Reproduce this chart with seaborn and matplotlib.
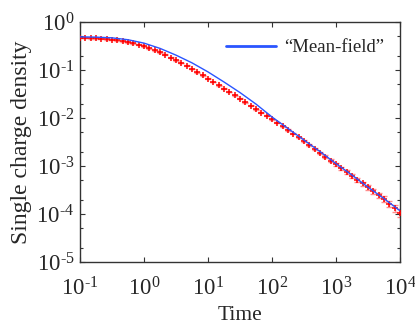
import numpy as np
import pandas as pd
import matplotlib
matplotlib.use("Agg")
import matplotlib.pyplot as plt
import matplotlib.ticker as mticker
import seaborn as sns

# Simulation results (red crosses with error bars)
sim_time = [0.1, 0.121, 0.147, 0.178, 0.215, 0.261, 0.316, 0.383, 0.464, 0.562, 0.681, 0.825,
            1, 1.21, 1.47, 1.78, 2.15, 2.61, 3.16, 3.83, 4.64, 5.62, 6.81, 8.25,
            10, 12.1, 14.7, 17.8, 21.5, 26.1, 31.6, 38.3, 46.4, 56.2, 68.1, 82.5,
            100, 121, 147, 178, 215, 261, 316, 383, 464, 562, 681, 825,
            1000, 1210, 1470, 1780, 2150, 2610, 3160, 3830, 4640, 5620, 6810, 8250,
            10000]
sim_density = [0.468, 0.465, 0.460, 0.455, 0.449, 0.440, 0.429, 0.415, 0.398, 0.380, 0.359, 0.335,
               0.309, 0.282, 0.257, 0.232, 0.207, 0.182, 0.160, 0.140, 0.122, 0.105, 0.0902, 0.0776,
               0.0661, 0.0562, 0.0479, 0.0407, 0.0347, 0.0295, 0.0251, 0.0214, 0.0180, 0.0151, 0.0130, 0.0111,
               0.00944, 0.00794, 0.00668, 0.00562, 0.00473, 0.00394, 0.00327, 0.00272, 0.00226, 0.00188, 0.00157, 0.00130,
               0.00108, 0.000902, 0.000750, 0.000624, 0.000519, 0.000432, 0.000359, 0.000299, 0.000248, 0.000204, 0.000164, 0.000133,
               0.000107]
# relative size of the error bars
sim_rel_err = [0.02] * 36 + [0.03, 0.03, 0.03, 0.03, 0.04, 0.04, 0.04, 0.05, 0.05, 0.05, 0.06, 0.06,
                             0.07, 0.07, 0.08, 0.08, 0.09, 0.10, 0.11, 0.12, 0.13, 0.14, 0.15, 0.16, 0.18]

# Mean-field curve (blue line)
mf_time = [0.1, 0.178, 0.316, 0.562, 1, 1.78, 3.16, 5.62, 10, 17.8, 31.6, 56.2,
           100, 178, 316, 562, 1000, 1780, 3160, 5620, 10000]
mf_density = [0.490, 0.484, 0.468, 0.427, 0.363, 0.282, 0.204, 0.141, 0.0912, 0.0562, 0.0339, 0.0195,
              0.0105, 0.00603, 0.00347, 0.00200, 0.00112, 0.000646, 0.000363, 0.000209, 0.000117]

sim = pd.DataFrame({"time": sim_time, "density": sim_density})
sim["err"] = sim["density"] * np.array(sim_rel_err)
mf = pd.DataFrame({"time": mf_time, "density": mf_density})

sns.set_style("ticks")
plt.rcParams["font.family"] = ["Liberation Serif", "DejaVu Serif"]
plt.rcParams["mathtext.fontset"] = "custom"
plt.rcParams["mathtext.rm"] = "Liberation Serif"
plt.rcParams["axes.unicode_minus"] = False


def pow10(v, pos):
    k = int(round(np.log10(v)))
    if k < 0:
        return r"$\mathdefault{10^{\text{-}%d}}$" % (-k)
    return r"$\mathdefault{10^{%d}}$" % k


fig = plt.figure(figsize=(4.15, 3.27), dpi=100)
ax = fig.add_axes([80 / 415, 65 / 327, 320 / 415, 240 / 327])

ax.errorbar(sim["time"], sim["density"], yerr=sim["err"], fmt="none",
            ecolor="#ff8c8c", elinewidth=1.0, capsize=2.0, capthick=1.0, zorder=2)
sns.scatterplot(data=sim, x="time", y="density", marker="+", color="red",
                s=13, linewidth=1.1, legend=False, ax=ax, zorder=3)
sns.lineplot(data=mf, x="time", y="density", color="#2a55ff", linewidth=1.0,
             label="\u201cMean-field\u201d", ax=ax, zorder=4)

ax.set_xscale("log")
ax.set_yscale("log")
ax.set_xlim(1e-1, 1e4)
ax.set_ylim(1e-5, 1e0)
ax.xaxis.set_major_locator(mticker.LogLocator(base=10, numticks=10))
ax.xaxis.set_minor_locator(mticker.NullLocator())
ax.yaxis.set_major_locator(mticker.LogLocator(base=10, numticks=10))
ax.yaxis.set_minor_locator(mticker.LogLocator(base=10, subs=(2, 5), numticks=20))
ax.yaxis.set_minor_formatter(mticker.NullFormatter())
ax.xaxis.set_major_formatter(mticker.FuncFormatter(pow10))
ax.yaxis.set_major_formatter(mticker.FuncFormatter(pow10))

ax.tick_params(which="both", direction="in", top=True, right=True, color="#333333")
ax.tick_params(which="major", length=3.5, width=0.8, labelsize=16.5, pad=4)
ax.tick_params(axis="x", which="major", pad=11)
ax.tick_params(which="minor", length=2.5, width=0.8)
for sp in ax.spines.values():
    sp.set_color("#333333")
    sp.set_linewidth(1.0)

ax.set_xlabel("Time", fontsize=15.5, labelpad=4)
ax.set_ylabel("Single charge density", fontsize=17, labelpad=3)

leg = ax.legend(loc="upper right", frameon=False, fontsize=13.5, handlelength=2.7,
                handletextpad=0.4, bbox_to_anchor=(0.985, 0.975), borderaxespad=0.2)
leg.get_lines()[0].set_linewidth(2.0)

fig.savefig("out.png", dpi=100, facecolor="white")
